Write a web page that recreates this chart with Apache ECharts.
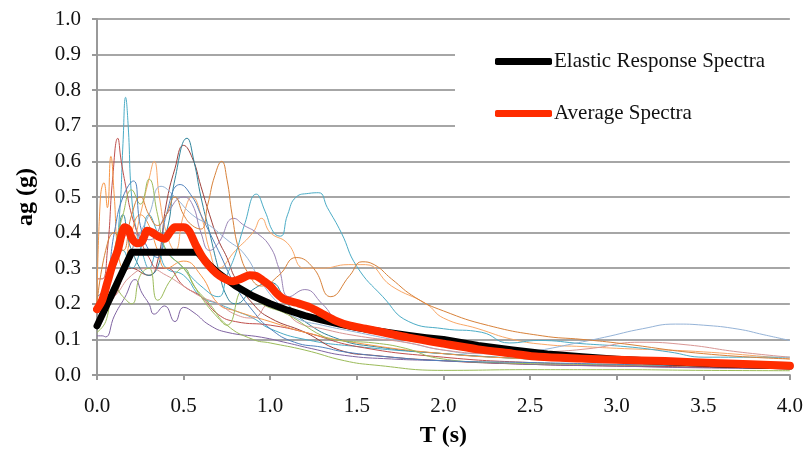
<!DOCTYPE html>
<html><head><meta charset="utf-8">
<script src="https://cdn.jsdelivr.net/npm/echarts@6/dist/echarts.min.js"></script>
<style>html,body{margin:0;padding:0;background:#fff}#c{width:806px;height:453px}</style>
</head><body><div id="c"></div>
<script>
// ---- data: [period T (s), spectral acceleration (g)] ----
const elastic = [[0,0.138],[0.2,0.345],[0.58,0.345],[0.65,0.308],[0.7,0.286],[0.8,0.25],[0.9,0.222],[1.0,0.2],[1.1,0.182],[1.2,0.167],[1.3,0.154],[1.4,0.143],[1.5,0.133],[1.6,0.125],[1.7,0.118],[1.8,0.111],[1.9,0.105],[2.0,0.1],[2.2,0.083],[2.4,0.07],[2.6,0.059],[2.8,0.051],[3.0,0.044],[3.2,0.039],[3.4,0.035],[3.6,0.031],[3.8,0.028],[4.0,0.025]];
const average = [[0,0.185],[0.03,0.21],[0.06,0.26],[0.09,0.31],[0.12,0.35],[0.14,0.39],[0.16,0.415],[0.18,0.41],[0.2,0.385],[0.23,0.37],[0.26,0.375],[0.29,0.405],[0.32,0.4],[0.35,0.39],[0.39,0.383],[0.42,0.4],[0.45,0.415],[0.5,0.415],[0.53,0.405],[0.57,0.365],[0.61,0.33],[0.65,0.305],[0.69,0.285],[0.73,0.272],[0.78,0.263],[0.83,0.27],[0.88,0.28],[0.92,0.278],[0.96,0.265],[1.0,0.25],[1.04,0.228],[1.08,0.213],[1.15,0.203],[1.23,0.19],[1.3,0.172],[1.38,0.152],[1.45,0.14],[1.55,0.13],[1.65,0.12],[1.8,0.105],[2.0,0.088],[2.2,0.072],[2.4,0.06],[2.55,0.051],[2.8,0.046],[3.0,0.043],[3.28,0.039],[3.6,0.033],[4.0,0.026]];
const recA = [[0,0.2],[0.05,0.25],[0.1,0.33],[0.13,0.45],[0.15,0.65],[0.165,0.78],[0.18,0.7],[0.2,0.5],[0.23,0.4],[0.27,0.33],[0.3,0.3],[0.35,0.35],[0.4,0.3],[0.5,0.28],[0.6,0.22],[0.7,0.2],[0.8,0.18],[0.9,0.16],[1.0,0.13],[1.2,0.1],[1.5,0.08],[2.0,0.06],[2.5,0.045],[3.0,0.035],[3.5,0.03],[4.0,0.025]];
const recB = [[0,0.27],[0.03,0.27],[0.06,0.35],[0.09,0.55],[0.12,0.665],[0.14,0.6],[0.17,0.52],[0.2,0.45],[0.25,0.38],[0.3,0.33],[0.35,0.3],[0.4,0.3],[0.5,0.25],[0.6,0.22],[0.7,0.17],[0.8,0.15],[1.0,0.14],[1.2,0.12],[1.5,0.08],[2.0,0.05],[2.5,0.035],[3.0,0.028],[3.5,0.022],[4.0,0.02]];
const recC = [[0,0.15],[0.1,0.22],[0.2,0.3],[0.3,0.28],[0.35,0.32],[0.4,0.48],[0.45,0.58],[0.5,0.645],[0.55,0.61],[0.6,0.53],[0.65,0.45],[0.7,0.38],[0.75,0.33],[0.8,0.27],[0.9,0.2],[1.0,0.16],[1.2,0.12],[1.4,0.07],[1.6,0.055],[2.0,0.04],[2.5,0.03],[3.0,0.025],[4.0,0.018]];
const recD = [[0,0.2],[0.1,0.3],[0.15,0.45],[0.2,0.35],[0.3,0.28],[0.4,0.4],[0.45,0.55],[0.52,0.665],[0.56,0.6],[0.6,0.5],[0.65,0.4],[0.7,0.3],[0.75,0.22],[0.8,0.2],[0.9,0.24],[1.0,0.26],[1.1,0.2],[1.2,0.15],[1.4,0.1],[1.6,0.08],[2.0,0.06],[2.5,0.045],[3.0,0.035],[4.0,0.025]];
const recE = [[0,0.2],[0.02,0.5],[0.04,0.54],[0.06,0.47],[0.08,0.614],[0.1,0.5],[0.12,0.35],[0.15,0.3],[0.2,0.4],[0.25,0.45],[0.3,0.42],[0.35,0.35],[0.4,0.3],[0.5,0.32],[0.6,0.28],[0.7,0.2],[0.8,0.18],[1.0,0.15],[1.2,0.12],[1.5,0.09],[2.0,0.06],[2.5,0.045],[3.0,0.035],[4.0,0.028]];
const recF = [[0,0.18],[0.1,0.25],[0.2,0.35],[0.25,0.45],[0.3,0.55],[0.33,0.6],[0.36,0.5],[0.4,0.4],[0.45,0.35],[0.5,0.45],[0.55,0.5],[0.6,0.45],[0.65,0.35],[0.7,0.3],[0.8,0.35],[0.9,0.4],[0.95,0.44],[1.0,0.4],[1.1,0.37],[1.2,0.3],[1.3,0.3],[1.45,0.31],[1.55,0.31],[1.7,0.25],[1.9,0.2],[2.0,0.16],[2.2,0.13],[2.4,0.1],[2.6,0.085],[2.8,0.08],[3.0,0.075],[3.5,0.065],[4.0,0.045]];
const recH = [[0,0.2],[0.05,0.25],[0.1,0.3],[0.15,0.35],[0.2,0.3],[0.25,0.35],[0.3,0.45],[0.35,0.4],[0.4,0.35],[0.5,0.3],[0.6,0.25],[0.7,0.22],[0.75,0.28],[0.8,0.34],[0.85,0.42],[0.92,0.508],[0.97,0.46],[1.02,0.4],[1.06,0.39],[1.1,0.45],[1.15,0.5],[1.22,0.51],[1.28,0.512],[1.33,0.47],[1.41,0.4],[1.5,0.305],[1.65,0.22],[1.8,0.15],[2.0,0.13],[2.22,0.12],[2.38,0.09],[2.55,0.097],[2.8,0.088],[3.09,0.078],[3.3,0.065],[3.51,0.05],[4.0,0.05]];
const recI = [[0,0.15],[0.1,0.25],[0.2,0.35],[0.3,0.45],[0.37,0.53],[0.45,0.5],[0.55,0.45],[0.65,0.42],[0.75,0.38],[0.85,0.34],[0.95,0.26],[1.05,0.2],[1.15,0.16],[1.3,0.14],[1.5,0.12],[1.8,0.09],[2.0,0.07],[2.2,0.06],[2.4,0.06],[2.55,0.069],[2.75,0.088],[2.93,0.106],[3.15,0.13],[3.34,0.143],[3.5,0.14],[3.7,0.129],[3.85,0.113],[4.0,0.097]];
const recJ = [[0,0.18],[0.1,0.22],[0.2,0.28],[0.3,0.3],[0.4,0.28],[0.5,0.25],[0.6,0.22],[0.7,0.2],[0.8,0.17],[0.9,0.16],[1.0,0.2],[1.05,0.2],[1.15,0.15],[1.3,0.13],[1.5,0.11],[1.8,0.09],[2.0,0.07],[2.3,0.06],[2.6,0.065],[2.84,0.074],[3.13,0.092],[3.4,0.085],[3.7,0.065],[4.0,0.05]];
const recK = [[0,0.11],[0.03,0.11],[0.05,0.107],[0.1,0.166],[0.16,0.217],[0.22,0.268],[0.26,0.23],[0.3,0.2],[0.33,0.171],[0.39,0.194],[0.45,0.15],[0.5,0.19],[0.56,0.175],[0.65,0.14],[0.75,0.12],[0.95,0.106],[1.1,0.09],[1.24,0.074],[1.43,0.055],[1.7,0.045],[2.0,0.04],[2.5,0.03],[3.0,0.025],[3.5,0.02],[4.0,0.018]];
const recL = [[0,0.12],[0.05,0.15],[0.1,0.25],[0.15,0.22],[0.2,0.2],[0.25,0.28],[0.3,0.3],[0.35,0.21],[0.43,0.27],[0.5,0.3],[0.56,0.25],[0.65,0.2],[0.75,0.14],[0.9,0.1],[1.0,0.09],[1.2,0.07],[1.43,0.04],[1.6,0.028],[2.0,0.013],[2.5,0.015],[3.0,0.015],[3.5,0.013],[4.0,0.012]];
const recM = [[0,0.13],[0.05,0.2],[0.1,0.35],[0.15,0.45],[0.2,0.52],[0.25,0.48],[0.3,0.55],[0.35,0.45],[0.4,0.35],[0.5,0.3],[0.6,0.22],[0.7,0.16],[0.75,0.14],[0.85,0.24],[0.95,0.2],[1.1,0.17],[1.3,0.11],[1.4,0.097],[1.6,0.09],[1.78,0.075],[1.97,0.047],[2.3,0.035],[2.8,0.03],[3.5,0.025],[4.0,0.02]];
const recN = [[0,0.22],[0.05,0.25],[0.1,0.4],[0.15,0.5],[0.21,0.545],[0.25,0.42],[0.3,0.35],[0.35,0.33],[0.4,0.45],[0.48,0.535],[0.55,0.5],[0.6,0.45],[0.7,0.35],[0.8,0.25],[0.9,0.18],[1.0,0.13],[1.14,0.092],[1.3,0.078],[1.43,0.065],[1.7,0.05],[2.0,0.04],[2.5,0.035],[3.0,0.03],[3.5,0.025],[4.0,0.02]];
const recO = [[0,0.2],[0.1,0.3],[0.2,0.4],[0.3,0.38],[0.4,0.45],[0.5,0.5],[0.55,0.48],[0.6,0.4],[0.65,0.35],[0.7,0.37],[0.79,0.44],[0.85,0.42],[0.92,0.4],[1.0,0.36],[1.05,0.3],[1.11,0.22],[1.2,0.24],[1.3,0.2],[1.4,0.15],[1.6,0.12],[1.8,0.1],[2.0,0.085],[2.5,0.06],[3.0,0.045],[3.5,0.04],[4.0,0.035]];
const recP = [[0,0.2],[0.05,0.35],[0.1,0.4],[0.15,0.35],[0.2,0.45],[0.25,0.5],[0.3,0.45],[0.35,0.42],[0.4,0.45],[0.45,0.5],[0.5,0.45],[0.55,0.42],[0.6,0.41],[0.64,0.48],[0.68,0.56],[0.72,0.6],[0.75,0.55],[0.78,0.45],[0.82,0.35],[0.88,0.28],[0.95,0.25],[1.05,0.28],[1.15,0.33],[1.25,0.3],[1.35,0.22],[1.46,0.28],[1.53,0.318],[1.6,0.31],[1.7,0.27],[1.84,0.217],[2.0,0.18],[2.26,0.139],[2.57,0.11],[2.8,0.1],[3.0,0.09],[3.5,0.06],[4.0,0.045]];
const records = [recA, recB, recC, recD, recE, recF, recH, recI, recJ, recK, recL, recM, recN, recO, recP];
const recordColors = ['#4BACC6','#C0504D','#A0403A','#31859C','#F79646','#F9A766','#4BACC6','#95B3D7','#D99694','#8064A2','#9BBB59','#9BBB59','#4F81BD','#9983B5','#D8823A'];
const yTicks = [0,0.1,0.2,0.3,0.4,0.5,0.6,0.7,0.8,0.9,1.0];
const xTicks = [0,0.5,1.0,1.5,2.0,2.5,3.0,3.5,4.0];

const FONT = '"Liberation Serif","Times New Roman",serif';
const series = records.map((r, i) => ({
  name: 'rec' + (i + 1), type: 'line', data: r, smooth: 0.5, showSymbol: false,
  lineStyle: { width: 1, color: recordColors[i] }, itemStyle: { color: recordColors[i] }, z: 2
}));
series.push({ name: 'Elastic Response Spectra', type: 'line', data: elastic, showSymbol: false,
  lineStyle: { width: 7, color: '#000', cap: 'round', join: 'round' }, itemStyle: { color: '#000' }, z: 3 });
series.push({ name: 'Average Spectra', type: 'line', data: average, smooth: 0.3, showSymbol: false,
  lineStyle: { width: 8, color: '#FF2C00', cap: 'round', join: 'round' }, itemStyle: { color: '#FF2C00' }, z: 4 });

const chart = echarts.init(document.getElementById('c'), null, { renderer: 'canvas' });
chart.setOption({
  animation: false,
  backgroundColor: '#fff',
  grid: { left: 97, right: 14, top: 19, bottom: 73 },
  graphic: [{ type: 'rect', left: 455, top: 40, shape: { width: 337, height: 105 }, style: { fill: '#fff' }, z: 5 }],
  legend: {
    data: ['Elastic Response Spectra', 'Average Spectra'], orient: 'vertical',
    left: 495, top: 51, padding: 0, itemGap: 31, itemWidth: 57, itemHeight: 7, icon: 'roundRect',
    textStyle: { fontFamily: FONT, fontSize: 21, color: '#111', padding: [0, 0, 0, -3] }, z: 20
  },
  xAxis: {
    type: 'value', min: 0, max: 4, interval: 0.5,
    name: 'T (s)', nameLocation: 'middle', nameGap: 49,
    nameTextStyle: { fontFamily: FONT, fontSize: 24, fontWeight: 'bold', color: '#000' },
    axisLine: { lineStyle: { color: '#999', width: 2 } },
    axisTick: { show: true, length: 5, lineStyle: { color: '#999', width: 2 } },
    axisLabel: { fontFamily: FONT, fontSize: 21, color: '#111', margin: 21, formatter: v => v.toFixed(1) },
    splitLine: { show: false }
  },
  yAxis: {
    type: 'value', min: 0, max: 1, interval: 0.1,
    name: 'ag (g)', nameLocation: 'middle', nameGap: 59, nameRotate: 90,
    nameTextStyle: { fontFamily: FONT, fontSize: 24, fontWeight: 'bold', color: '#000' },
    axisLine: { show: true, lineStyle: { color: '#999', width: 2 } },
    axisTick: { show: true, length: 5, lineStyle: { color: '#999', width: 2 } },
    axisLabel: { fontFamily: FONT, fontSize: 21, color: '#111', margin: 16, formatter: v => v.toFixed(1) },
    splitLine: { show: true, lineStyle: { color: '#A6A6A6', width: 2 } }
  },
  series: series
});
</script></body></html>
